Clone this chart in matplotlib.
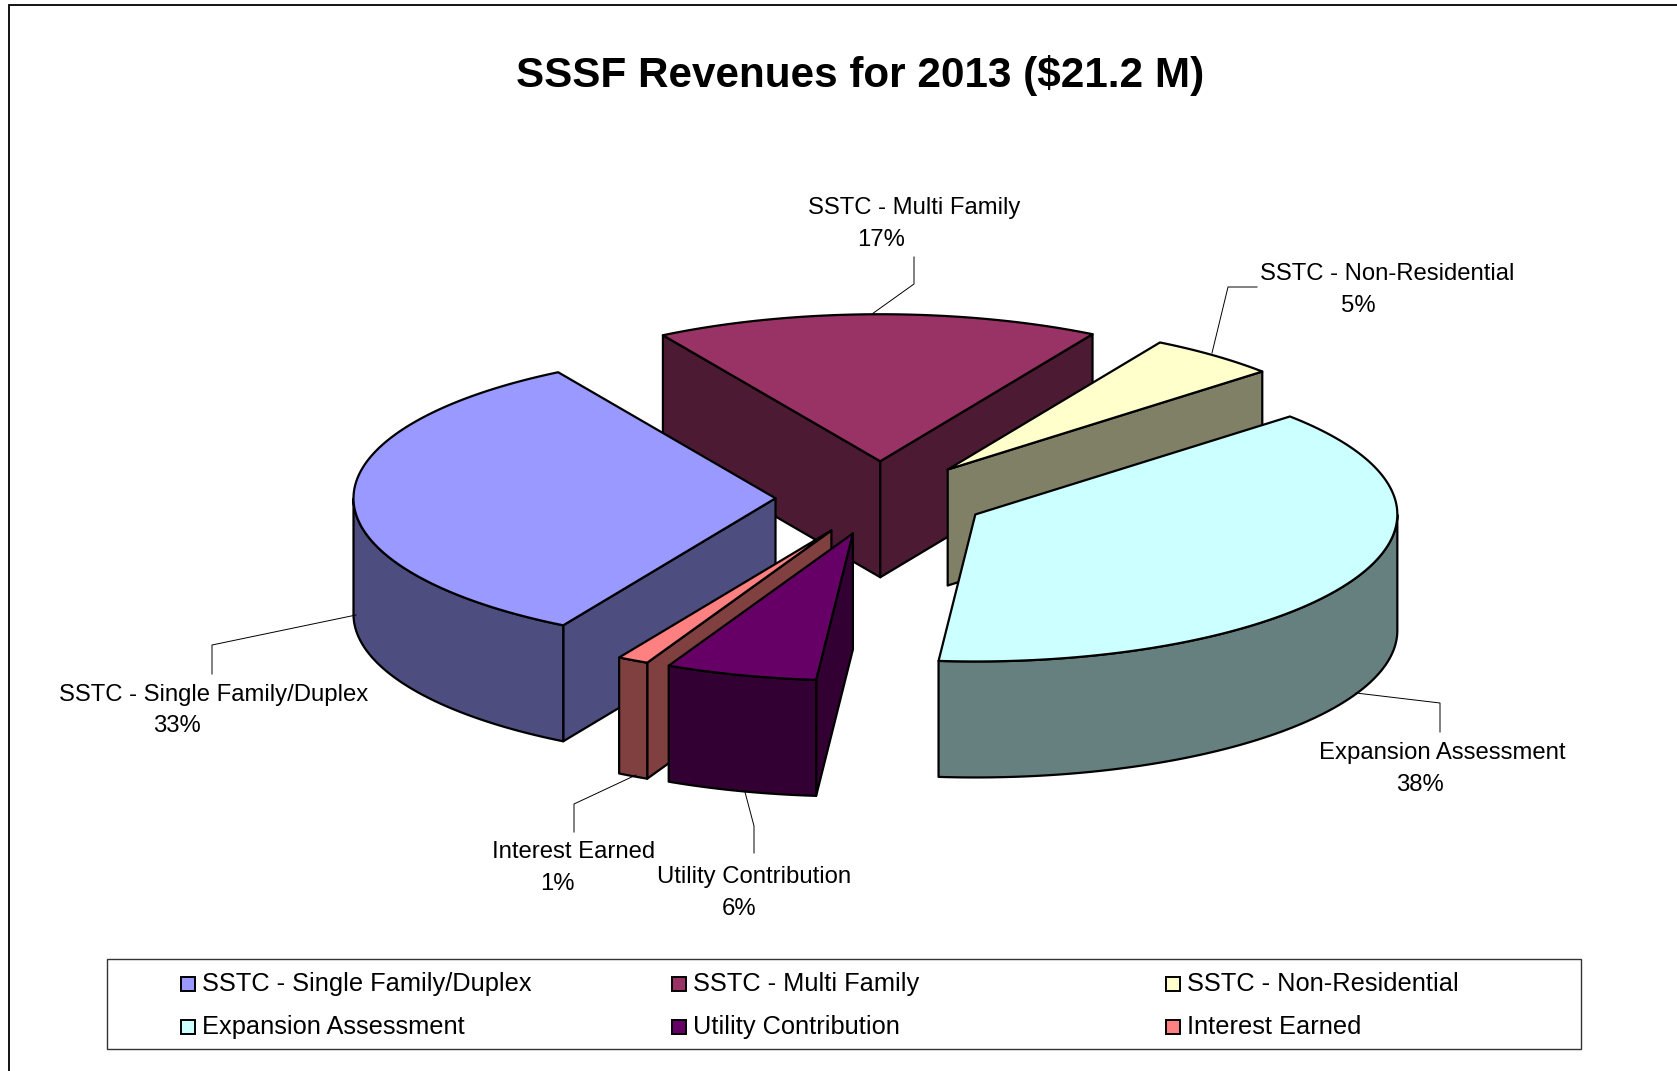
import numpy as np
import matplotlib
matplotlib.use('Agg')
import matplotlib.pyplot as plt
from matplotlib.patches import Polygon, Rectangle

plt.rcParams['font.family'] = ['Liberation Sans', 'DejaVu Sans']

# Dados
title = 'SSSF Revenues for 2013 ($21.2 M)'
names = ['SSTC - Single Family/Duplex', 'SSTC - Multi Family', 'SSTC - Non-Residential',
         'Expansion Assessment', 'Utility Contribution', 'Interest Earned']
shares = [33.0, 17.0, 5.0, 38.0, 5.8, 1.2]
pct_labels = ['33%', '17%', '5%', '38%', '6%', '1%']
top_colors = ['#9999FF', '#993366', '#FFFFCC', '#CCFFFF', '#660066', '#FF8080']
side_colors = ['#4D4D80', '#4D1A33', '#808066', '#668080', '#330033', '#804040']

# Posicao dos rotulos: nome (x, y), percentual (x, y)
name_pos = [(214, 695), (914, 208), (1387, 274), (1442, 753), (754, 877), (574, 852)]
pct_pos = [(177, 726), (881, 240), (1358, 306), (1420, 785), (739, 909), (557, 884)]
leaders = [[(356, 615), (212, 645), (212, 674)],
           [(872, 314), (914, 284), (914, 257)],
           [(1212, 353), (1228, 287), (1257, 287)],
           [(1356, 693), (1440, 703), (1440, 732)],
           [(745, 792), (754, 826), (754, 853)],
           [(636, 775), (574, 804), (574, 832)]]

# Geometria da pizza 3D
cx, cy = 881, 498
rx, ry = 422, 147
depth = 116
explode = 0.25
start_angle = 239.8


def project(x0, y0, t):
    return x0 + rx * np.cos(t), y0 - ry * np.sin(t)


def side_face(points, color, ax):
    pts = np.array(points)
    low = pts + [0, depth]
    poly = np.vstack([pts, low[::-1]])
    ax.add_patch(Polygon(poly, closed=True, facecolor=color, edgecolor='black',
                         linewidth=1.6, joinstyle='round'))


fig = plt.figure(figsize=(16.77, 10.71), dpi=100)
ax = fig.add_axes([0, 0, 1, 1])
ax.set_xlim(0, 1677)
ax.set_ylim(1071, 0)
ax.axis('off')

# Moldura
ax.plot([9, 9, 1677], [1071, 5, 5], color='black', lw=1.3, solid_joinstyle='miter')

# Linhas de chamada
for pts in leaders:
    xs, ys = zip(*pts)
    ax.plot(xs, ys, color='black', lw=0.7)

# Fatias: do fundo para a frente
fracs = np.array(shares) / sum(shares)
ends = start_angle - np.cumsum(fracs) * 360
starts = np.concatenate([[start_angle], ends[:-1]])
mids = np.radians((starts + ends) / 2)
for i in np.argsort(-np.sin(mids)):
    x0 = cx + explode * rx * np.cos(mids[i])
    y0 = cy - explode * ry * np.sin(mids[i])
    a, b = np.radians(starts[i]), np.radians(ends[i])
    t = np.linspace(a, b, 200)
    arc_x, arc_y = project(x0, y0, t)

    # Paredes radiais: so as que estao voltadas para o observador
    if np.cos(a) < 0:
        side_face([(x0, y0), project(x0, y0, a)], side_colors[i], ax)
    if np.cos(b) > 0:
        side_face([(x0, y0), project(x0, y0, b)], side_colors[i], ax)

    # Parede externa (so a metade da frente)
    mask = np.sin(t) <= 0
    if mask.any():
        side_face(np.column_stack([arc_x[mask], arc_y[mask]]), side_colors[i], ax)

    # Tampo
    top = np.vstack([[x0, y0], np.column_stack([arc_x, arc_y])])
    ax.add_patch(Polygon(top, closed=True, facecolor=top_colors[i], edgecolor='black',
                         linewidth=1.6, joinstyle='round'))

# Titulo e rotulos
ax.text(860, 75, title, fontsize=30.4, fontweight='bold', ha='center', va='center', parse_math=False)
for i in range(len(names)):
    ax.text(name_pos[i][0], name_pos[i][1], names[i], fontsize=17.2, ha='center', va='center')
    ax.text(pct_pos[i][0], pct_pos[i][1], pct_labels[i], fontsize=17.2, ha='center', va='center')

# Legenda
ax.add_patch(Rectangle((107, 959), 1474, 90, facecolor='white', edgecolor='#333333', lw=1.0))
leg_x = [188, 679, 1173]
leg_y = [984, 1027]
for i in range(len(names)):
    col, row = i % 3, i // 3
    ax.add_patch(Rectangle((leg_x[col] - 7, leg_y[row] - 7), 14, 14, facecolor=top_colors[i],
                           edgecolor='black', lw=1.4))
    ax.text(leg_x[col] + 14, leg_y[row], names[i], fontsize=18.3, ha='left', va='center')

fig.savefig('out.png', dpi=100)
plt.close(fig)
